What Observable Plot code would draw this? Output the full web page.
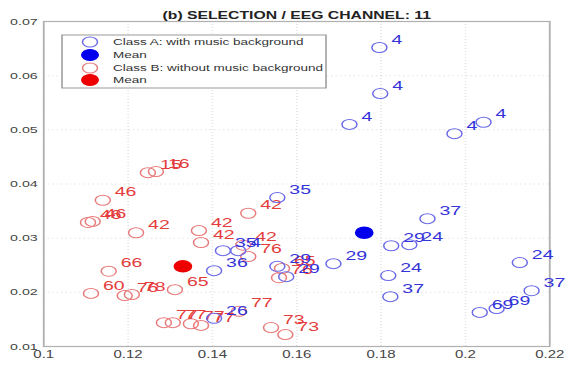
<!DOCTYPE html>
<html><head><meta charset="utf-8">
<script src="https://cdn.jsdelivr.net/npm/d3@7"></script>
<script src="https://cdn.jsdelivr.net/npm/@observablehq/plot@0.6"></script>
<style>html,body{margin:0;padding:0;background:#fff}#chart svg{display:block}</style>
</head><body><div id="chart"></div>
<script>
const title = "(b) SELECTION / EEG CHANNEL: 11";
const legendLabels = ["Class A: with music background", "Mean", "Class B: without music background", "Mean"];

const xTicks = [0.1, 0.12, 0.14, 0.16, 0.18, 0.2, 0.22];
const xTickLabels = ["0.1", "0.12", "0.14", "0.16", "0.18", "0.2", "0.22"];
const yTicks = [0.01, 0.02, 0.03, 0.04, 0.05, 0.06, 0.07];
const yTickLabels = ["0.01", "0.02", "0.03", "0.04", "0.05", "0.06", "0.07"];

const classA_x = [0.1796,0.1798,0.1725,0.1974,0.2043,0.1554,0.1910,0.1824,0.1867,0.1687,0.1817,0.1822,0.2129,0.2157,0.2034,0.2074,0.1425,0.1461,0.1404,0.1404,0.1554,0.1575];
const classA_y = [0.0652,0.0567,0.0510,0.0493,0.0514,0.0375,0.0336,0.0286,0.0288,0.0253,0.0231,0.0192,0.0255,0.0203,0.0163,0.0170,0.0277,0.0277,0.0240,0.0152,0.0248,0.0229];
const classA_labels = ["4","4","4","4","4","35","37","29","24","29","24","37","24","37","69","69","35","4","36","26","29","29"];

const classB_x = [0.1247,0.1266,0.1140,0.1105,0.1116,0.1219,0.1154,0.1112,0.1192,0.1209,0.1285,0.1306,0.1349,0.1373,0.1463,0.1539,0.1573,0.1485,0.1368,0.1373,0.1473,0.1485,0.1565,0.1558,0.1311];
const classB_y = [0.0421,0.0423,0.0370,0.0329,0.0331,0.0310,0.0239,0.0198,0.0194,0.0196,0.0144,0.0144,0.0142,0.0139,0.0165,0.0135,0.0122,0.0346,0.0314,0.0292,0.0287,0.0266,0.0244,0.0227,0.0205];
const classB_labels = ["15","16","46","46","46","42","66","60","76","78","77","77","77","77","77","73","73","42","42","42","42","76","65","76","65"];

const meanA_x = [0.1760], meanA_y = [0.0310];
const meanB_x = [0.1330], meanB_y = [0.0248];

const A = classA_x.map((x, i) => ({x, y: classA_y[i], label: classA_labels[i]}));
const B = classB_x.map((x, i) => ({x, y: classB_y[i], label: classB_labels[i]}));
const MA = meanA_x.map((x, i) => ({x, y: meanA_y[i]}));
const MB = meanB_x.map((x, i) => ({x, y: meanB_y[i]}));

const W = 566, H = 365, S = 1.5, w0 = W / S;
const blueC = "#6a6ae8", blueT = "#3434d8", redC = "#e87a7a", redT = "#e43c3c";

const svg = Plot.plot({
  width: w0, height: H,
  marginLeft: 43 / S, marginRight: 17 / S, marginTop: 21, marginBottom: 19,
  style: {fontFamily: "'Liberation Sans', Arial, sans-serif", fontSize: "10px", color: "#333", background: "#fff"},
  x: {domain: [0.1, 0.22]},
  y: {domain: [0.01, 0.07]},
  marks: [
    Plot.gridX(xTicks, {stroke: "#c8c8c8", strokeOpacity: 0.5, strokeDasharray: "1,2"}),
    Plot.gridY(yTicks, {stroke: "#c8c8c8", strokeOpacity: 0.5, strokeDasharray: "1,2"}),
    Plot.frame({stroke: "#b0b0b0", strokeWidth: 1.2}),
    Plot.axisX(xTicks, {tickSize: 0, tickPadding: 4, label: null, tickFormat: (d, i) => xTickLabels[i], fill: "#444"}),
    Plot.axisY(yTicks, {tickSize: 0, tickPadding: 4, label: null, tickFormat: (d, i) => yTickLabels[i], fill: "#444", fontSize: 9.5}),
    Plot.dot(B, {x: "x", y: "y", r: 5, stroke: redC, strokeWidth: 1, fill: "none"}),
    Plot.text(B, {x: "x", y: "y", text: "label", dx: 8, dy: -8, textAnchor: "start", fill: redT, fontSize: 13}),
    Plot.dot(A, {x: "x", y: "y", r: 5, stroke: blueC, strokeWidth: 1, fill: "none"}),
    Plot.text(A, {x: "x", y: "y", text: "label", dx: 8, dy: -8, textAnchor: "start", fill: blueT, fontSize: 13}),
    Plot.dot(MA, {x: "x", y: "y", r: 5.5, fill: "#0000ee", stroke: "#0000ee"}),
    Plot.dot(MB, {x: "x", y: "y", r: 5.5, fill: "#ee0000", stroke: "#ee0000"}),
    Plot.text([title], {frameAnchor: "top", dy: -10, fontWeight: "bold", fontSize: 10.5, fill: "#222"})
  ]
});

svg.setAttribute("viewBox", `0 0 ${w0} ${H}`);
svg.setAttribute("preserveAspectRatio", "none");
svg.setAttribute("width", W);
svg.setAttribute("height", H);
svg.style.maxWidth = "none";
svg.style.width = W + "px";
svg.style.height = H + "px";

// legend
const g = d3.select(svg).append("g")
  .attr("font-family", "'Liberation Sans', Arial, sans-serif")
  .attr("font-size", 9).attr("text-anchor", "start");
g.append("rect").attr("x", 62 / S).attr("y", 35).attr("width", (326 - 62) / S).attr("height", 53)
  .attr("fill", "#fff").attr("stroke", "#999").attr("stroke-width", 1);
const rowsY = [42, 55, 68, 80];
const sty = [
  {fill: "none", stroke: blueC}, {fill: "#0000ee", stroke: "#0000ee"},
  {fill: "none", stroke: redC}, {fill: "#ee0000", stroke: "#ee0000"}
];
legendLabels.forEach((t, i) => {
  g.append("circle").attr("cx", 90 / S).attr("cy", rowsY[i]).attr("r", i % 2 ? 5.5 : 5)
    .attr("fill", sty[i].fill).attr("stroke", sty[i].stroke);
  g.append("text").attr("x", 113 / S).attr("y", rowsY[i]).attr("dy", "0.35em")
    .attr("text-anchor", "start").attr("fill", "#333").text(t);
});

document.getElementById("chart").appendChild(svg);
</script>
</body></html>
